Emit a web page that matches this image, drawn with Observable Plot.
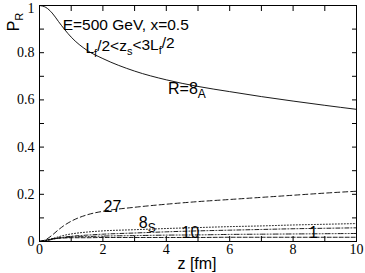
<!DOCTYPE html>
<html><head><meta charset="utf-8">
<script src="https://cdn.jsdelivr.net/npm/d3@7"></script>
<script src="https://cdn.jsdelivr.net/npm/@observablehq/plot@0.6"></script>
<style>body{margin:0;background:#fff}</style>
</head><body><div id="chart"></div>
<script>
const zGrid = [0,0.2,0.4,0.6,0.8,1,1.5,2,3,4,5,6,7,8,9,10];
const p8A  = [1.0,0.992,0.968,0.932,0.897,0.866,0.81,0.775,0.722,0.685,0.657,0.635,0.614,0.595,0.577,0.56];
const p27  = [0,0.008,0.027,0.05,0.07,0.086,0.113,0.128,0.145,0.158,0.169,0.178,0.187,0.196,0.205,0.213];
const p8S  = [0,0.004,0.012,0.02,0.027,0.032,0.04,0.045,0.05,0.055,0.059,0.063,0.066,0.07,0.073,0.076];
const p10b = [0,0.003,0.009,0.015,0.019,0.022,0.027,0.031,0.036,0.041,0.045,0.048,0.051,0.054,0.056,0.058];
const p10  = [0,0.004,0.01,0.014,0.017,0.019,0.021,0.023,0.025,0.027,0.028,0.03,0.031,0.032,0.033,0.034];
const p1   = [0,0.006,0.012,0.014,0.015,0.016,0.016,0.017,0.017,0.017,0.017,0.018,0.018,0.018,0.018,0.018];

const xTicks = [0,2,4,6,8,10];
const xMinor = [0,1,2,3,4,5,6,7,8,9,10];
const yTicks = [0,0.2,0.4,0.6,0.8];
const yTop = [1];
const yMinor = [0,0.1,0.2,0.3,0.4,0.5,0.6,0.7,0.8,0.9,1];

const labelText = ["R=8A","27","8S","10","1"];
const labelZ    = [4.65, 2.3, 3.4, 4.76, 8.64];
const labelP    = [0.648, 0.145, 0.08, 0.035, 0.035];
const infoText = ["E=500 GeV, x=0.5", "Lf/2<zs<3Lf/2"];
const infoZ = [0.73, 1.45];
const infoP = [0.918, 0.82];

const ser = arr => zGrid.map((z,i)=>({z, p: arr[i]}));
const sans = "Liberation Sans, Arial, sans-serif";
const serif = "Liberation Serif, Times New Roman, serif";

const line = (arr, dash) => Plot.line(ser(arr), {x:"z", y:"p", curve:"monotone-x", stroke:"#000", strokeWidth:0.9, strokeDasharray: dash});

const chart = Plot.plot({
  width: 365, height: 273,
  marginLeft: 39, marginRight: 9, marginTop: 5, marginBottom: 32,
  style: {fontFamily: serif, fontSize: "14px", background: "#fff", color: "#000"},
  x: {domain: [0,10]},
  y: {domain: [0,1]},
  marks: [
    Plot.frame({stroke:"#000", strokeWidth: 1}),
    Plot.axisX(xTicks, {anchor:"bottom", tickSize:0, tickPadding:3, fontSize:14, fontFamily: serif, label:null}),
    Plot.axisY(yTicks, {anchor:"left", tickSize:0, tickPadding:5, fontSize:14, fontFamily: serif, label:null, tickFormat: d => d===0?"0":String(d)}),
    Plot.axisY(yTop, {anchor:"left", tickSize:0, tickPadding:5, dy:3, fontSize:14, fontFamily: serif, label:null, tickFormat: d => "1"}),
    Plot.axisX(xMinor, {anchor:"bottom", tickSize:-5, text:null, label:null}),
    Plot.axisX(xMinor, {anchor:"top", tickSize:-5, text:null, label:null}),
    Plot.axisY(yMinor, {anchor:"left", tickSize:-5, text:null, label:null}),
    Plot.axisY(yMinor, {anchor:"right", tickSize:-5, text:null, label:null}),
    line(p8A, null),
    line(p27, "5,3"),
    line(p8S, "1,2"),
    line(p10b, "4,2,1,2"),
    line(p10, "5,2,1,2,1,2"),
    line(p1, "4,2"),
    Plot.text(labelText, {x:(d,i)=>labelZ[i], y:(d,i)=>labelP[i], text:d=>d, fontFamily:sans, fontSize:16, textAnchor:"middle"}),
    Plot.text(infoText, {x:(d,i)=>infoZ[i], y:(d,i)=>infoP[i], text:d=>d, fontFamily:sans, fontSize:15.5, textAnchor:"start"})
  ]
});

// subscripts
const subs = {"R=8A":["R=8","A"], "8S":["8","S"]};
d3.select(chart).selectAll("text").each(function(){
  const t = d3.select(this);
  const s = t.text();
  if (subs[s]) {
    t.text(null);
    t.append("tspan").text(subs[s][0]);
    t.append("tspan").attr("dy","0.35em").attr("font-size","12").text(subs[s][1]);
  } else if (s === "Lf/2<zs<3Lf/2") {
    t.text(null);
    const parts = [["L",0],["f",1],["/2<z",0],["s",1],["<3L",0],["f",1],["/2",0]];
    let sub = 0;
    for (const [p,b] of parts) {
      const dy = b && !sub ? "0.35em" : (!b && sub ? "-0.35em" : null);
      const ts = t.append("tspan").text(p);
      if (dy) ts.attr("dy", dy);
      if (b) ts.attr("font-size","11");
      sub = b;
    }
  }
});

const svg = d3.select(chart);
svg.append("text").attr("transform","translate(19,22) rotate(-90)")
  .attr("font-family", sans).attr("font-size", 16).attr("text-anchor","middle")
  .call(t=>{ t.append("tspan").text("P"); t.append("tspan").attr("dy","0.35em").attr("font-size",11).text("R"); });
svg.append("text").attr("x", 197).attr("y", 269)
  .attr("font-family", sans).attr("font-size", 16).attr("text-anchor","middle").text("z [fm]");

document.getElementById("chart").appendChild(chart);
</script>
</body></html>
